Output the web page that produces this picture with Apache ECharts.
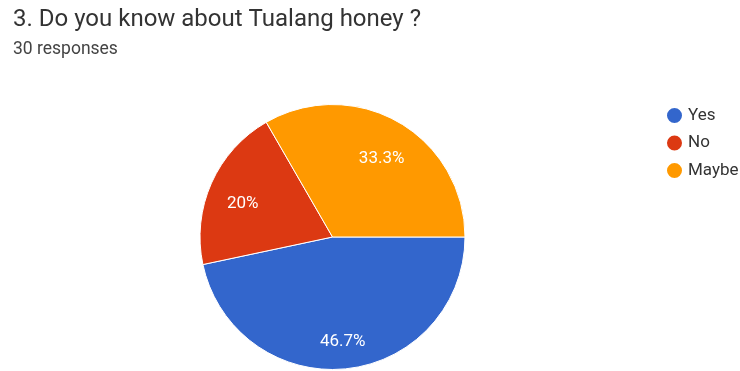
<!DOCTYPE html>
<html>
<head>
<meta charset="utf-8">
<script src="https://cdn.jsdelivr.net/npm/echarts@6/dist/echarts.min.js"></script>
<style>
  html, body { margin: 0; padding: 0; background: #fff; }
  #chart { width: 740px; height: 371px; }
</style>
</head>
<body>
<div id="chart"></div>
<script>
// Datos del gráfico
const categorias = ['Yes', 'No', 'Maybe'];
const respuestas = [14, 6, 10];
const colores = ['#3366cc', '#dc3912', '#ff9900'];

const datos = categorias.map(function(nombre, i) {
  return { name: nombre, value: respuestas[i], itemStyle: { color: colores[i] } };
});

const chart = echarts.init(document.getElementById('chart'), null, { renderer: 'canvas' });

const option = {
  animation: false,
  title: {
    text: '3. Do you know about Tualang honey ?',
    subtext: '30 responses',
    left: 8,
    top: 3,
    itemGap: 9,
    textStyle: { fontFamily: 'Roboto', fontSize: 24, fontWeight: 'normal', color: '#333' },
    subtextStyle: { fontFamily: 'Roboto', fontSize: 17.5, color: '#444' }
  },
  legend: {
    orient: 'vertical',
    left: 660,
    top: 101,
    icon: 'circle',
    itemWidth: 17,
    itemHeight: 17,
    itemGap: 8.5,
    textStyle: { fontFamily: 'Roboto', fontSize: 17, color: '#333' },
    data: categorias
  },
  series: [
    {
      name: 'Respuestas',
      type: 'pie',
      center: [332.5, 237],
      radius: [0, 132.5],
      startAngle: 0,
      clockwise: true,
      itemStyle: { borderColor: '#fff', borderWidth: 1 },
      label: { show: false },
      labelLine: { show: false },
      emphasis: { disabled: true },
      data: datos
    },
    {
      // capa transparente solo para ubicar las etiquetas
      name: 'Etiquetas',
      type: 'pie',
      silent: true,
      legendHoverLink: false,
      center: [332.5, 244],
      radius: [58, 132.5],
      startAngle: 0,
      clockwise: true,
      itemStyle: { color: 'rgba(0,0,0,0)' },
      label: {
        position: 'inside',
        fontFamily: 'Roboto',
        fontSize: 17,
        color: '#fff',
        formatter: function(p) {
          return (Math.round(p.percent * 10) / 10) + '%';
        }
      },
      labelLine: { show: false },
      data: categorias.map(function(nombre, i) {
        return { name: nombre, value: respuestas[i] };
      })
    }
  ]
};

chart.setOption(option);
</script>
</body>
</html>
